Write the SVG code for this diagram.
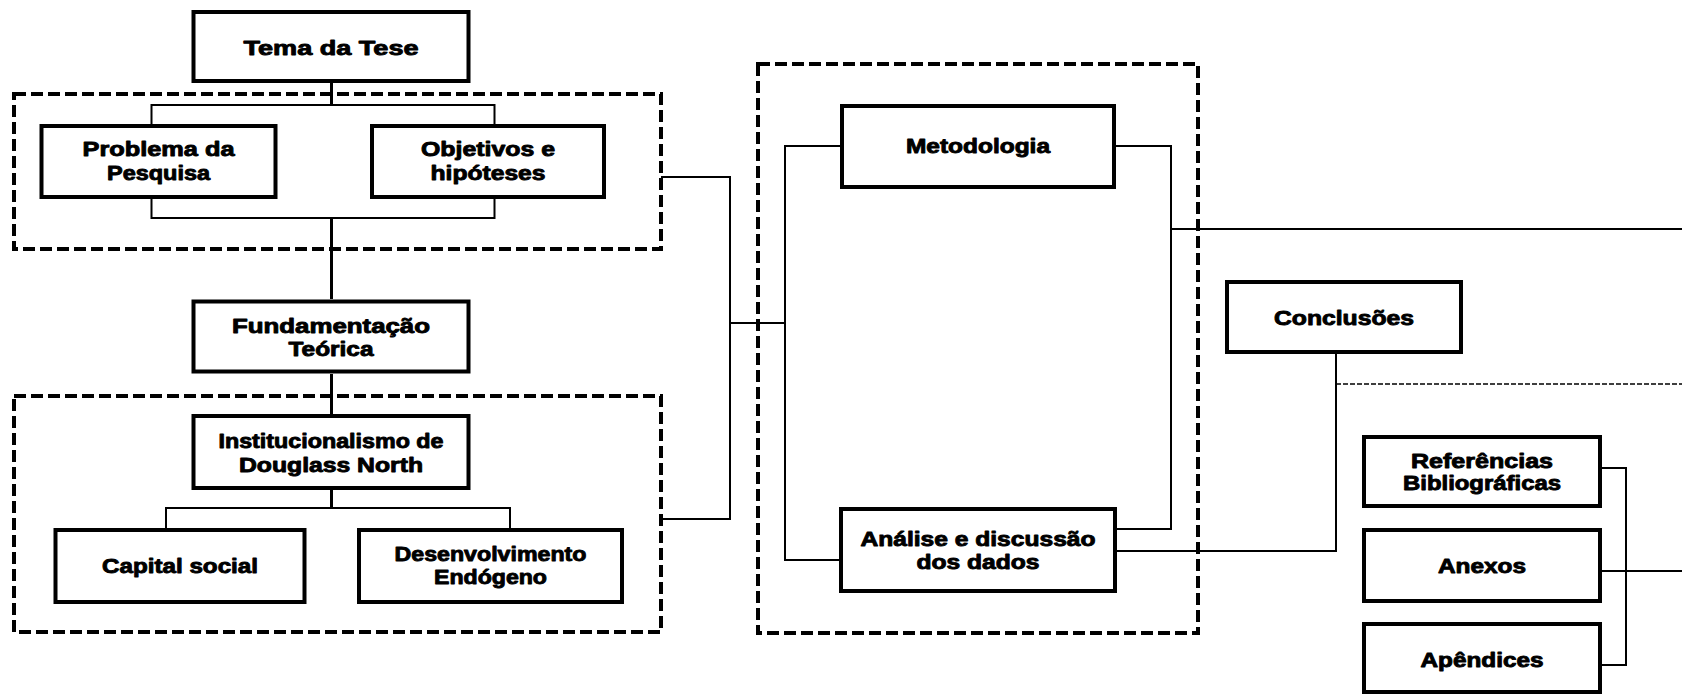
<svg xmlns="http://www.w3.org/2000/svg" width="1682" height="695" viewBox="0 0 1682 695">
  <style>
    .box { fill: #ffffff; stroke: #000000; stroke-width: 4; stroke-linejoin: miter; }
    .group { fill: none; stroke: #000000; stroke-width: 4; stroke-dasharray: 12 5; }
    .spine { fill: none; stroke: #000000; stroke-width: 3; }
    .link { fill: none; stroke: #000000; stroke-width: 2; }
    .thin-dash { fill: none; stroke: #000000; stroke-width: 1.5; stroke-dasharray: 5 2; }
    .label { font-family: "Liberation Sans", Arial, sans-serif; font-weight: bold; font-size: 20.5px; fill: #000000; stroke: #000000; stroke-width: 0.9; stroke-linejoin: round; text-anchor: middle; }
  </style>

  <rect width="1682" height="695" fill="#ffffff"/>

  <!-- dashed groupings -->
  <g id="groups">
    <rect class="group" x="14" y="94" width="647" height="155"/>
    <rect class="group" x="14" y="396" width="647" height="236"/>
    <rect class="group" x="758" y="64" width="440" height="569"/>
  </g>

  <!-- connectors -->
  <g id="connectors">
    <!-- thesis spine -->
    <path class="spine" d="M331.5 83 V105"/>
    <path class="link" d="M151.5 124 V105 H494.5 V124"/>
    <path class="link" d="M151.5 199 V218 H494.5 V199"/>
    <path class="spine" d="M331.5 218 V299"/>
    <path class="spine" d="M331.5 374 V414"/>
    <path class="spine" d="M331.5 490 V508"/>
    <path class="link" d="M166 528 V508 H510 V528"/>
    <!-- theory blocks to method block -->
    <path class="link" d="M661 177 H730 V519 H661"/>
    <path class="link" d="M730 323 H785"/>
    <path class="link" d="M840 146 H785 V560 H839"/>
    <path class="link" d="M1116 146 H1171 V529 H1117"/>
    <path class="link" d="M1171 229 H1682"/>
    <!-- analysis to conclusions -->
    <path class="link" d="M1117 551 H1336 V354"/>
    <path class="thin-dash" d="M1336 384 H1682"/>
    <!-- back matter bracket -->
    <path class="link" d="M1602 468 H1626 V665 H1602"/>
    <path class="link" d="M1602 571 H1682"/>
  </g>

  <g id="tema">
    <rect class="box" x="193.5" y="12" width="275" height="69"/>
    <text class="label" x="331" y="55" style="font-size:21px" textLength="175" lengthAdjust="spacingAndGlyphs">Tema da Tese</text>
  </g>

  <g id="problema">
    <rect class="box" x="41.5" y="126" width="234" height="71"/>
    <text class="label" x="158.5" y="156" textLength="152" lengthAdjust="spacingAndGlyphs">Problema da</text>
    <text class="label" x="158.5" y="180" textLength="103" lengthAdjust="spacingAndGlyphs">Pesquisa</text>
  </g>

  <g id="objetivos">
    <rect class="box" x="372" y="126" width="232" height="71"/>
    <text class="label" x="488" y="156" textLength="134" lengthAdjust="spacingAndGlyphs">Objetivos e</text>
    <text class="label" x="488" y="180" textLength="115" lengthAdjust="spacingAndGlyphs">hipóteses</text>
  </g>

  <g id="fundamentacao">
    <rect class="box" x="193.5" y="301.5" width="275" height="70"/>
    <text class="label" x="331" y="333" textLength="198" lengthAdjust="spacingAndGlyphs">Fundamentação</text>
    <text class="label" x="331" y="356" textLength="85" lengthAdjust="spacingAndGlyphs">Teórica</text>
  </g>

  <g id="institucionalismo">
    <rect class="box" x="193.5" y="416" width="275" height="72"/>
    <text class="label" x="331" y="448" textLength="225" lengthAdjust="spacingAndGlyphs">Institucionalismo de</text>
    <text class="label" x="331" y="471.5" textLength="184" lengthAdjust="spacingAndGlyphs">Douglass North</text>
  </g>

  <g id="capital-social">
    <rect class="box" x="55.5" y="530" width="249" height="72"/>
    <text class="label" x="180" y="572.5" textLength="156" lengthAdjust="spacingAndGlyphs">Capital social</text>
  </g>

  <g id="desenvolvimento">
    <rect class="box" x="359" y="530" width="263" height="72"/>
    <text class="label" x="490.5" y="561" textLength="192" lengthAdjust="spacingAndGlyphs">Desenvolvimento</text>
    <text class="label" x="490.5" y="584" textLength="113" lengthAdjust="spacingAndGlyphs">Endógeno</text>
  </g>

  <g id="metodologia">
    <rect class="box" x="842" y="106" width="272" height="81"/>
    <text class="label" x="978" y="153" textLength="144" lengthAdjust="spacingAndGlyphs">Metodologia</text>
  </g>

  <g id="analise">
    <rect class="box" x="841" y="509" width="274" height="82"/>
    <text class="label" x="978" y="546" textLength="235" lengthAdjust="spacingAndGlyphs">Análise e discussão</text>
    <text class="label" x="978" y="569" textLength="123" lengthAdjust="spacingAndGlyphs">dos dados</text>
  </g>

  <g id="conclusoes">
    <rect class="box" x="1227" y="282" width="234" height="70"/>
    <text class="label" x="1344" y="325" textLength="140" lengthAdjust="spacingAndGlyphs">Conclusões</text>
  </g>

  <g id="referencias">
    <rect class="box" x="1364" y="437" width="236" height="69"/>
    <text class="label" x="1482" y="468" textLength="142" lengthAdjust="spacingAndGlyphs">Referências</text>
    <text class="label" x="1482" y="490" textLength="158" lengthAdjust="spacingAndGlyphs">Bibliográficas</text>
  </g>

  <g id="anexos">
    <rect class="box" x="1364" y="530" width="236" height="71"/>
    <text class="label" x="1482" y="573" textLength="88" lengthAdjust="spacingAndGlyphs">Anexos</text>
  </g>

  <g id="apendices">
    <rect class="box" x="1364" y="624" width="236" height="68"/>
    <text class="label" x="1482" y="667" textLength="123" lengthAdjust="spacingAndGlyphs">Apêndices</text>
  </g>
</svg>
